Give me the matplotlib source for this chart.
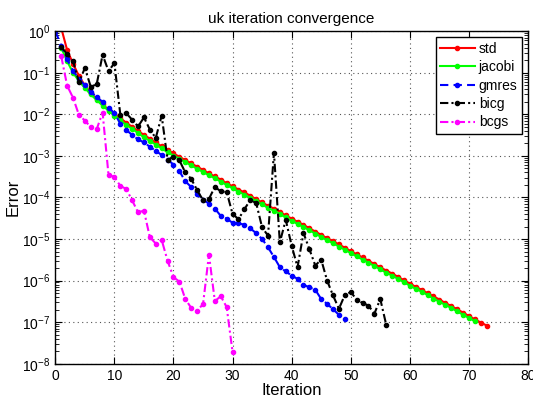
import matplotlib
matplotlib.use("Agg")
import matplotlib.pyplot as plt
import numpy as np

plt.rcParams['font.family'] = ['Liberation Sans', 'DejaVu Sans']
plt.rcParams['mathtext.fontset'] = 'custom'
plt.rcParams['mathtext.rm'] = 'Liberation Sans'

# ---- data ----
std_iter = list(range(1, 74))
std_err = [1.2e0, 3.5e-1, 1.66e-1, 8.3e-2, 5.0e-2, 3.3e-2, 2.3e-2, 1.74e-2, 1.29e-2, 1.0e-2,
           8.1e-3, 6.3e-3, 5.0e-3, 4.0e-3, 3.2e-3, 2.6e-3, 2.1e-3, 1.7e-3, 1.38e-3, 1.15e-3,
           9.5e-4, 7.9e-4, 6.6e-4, 5.5e-4, 4.6e-4, 3.8e-4, 3.2e-4, 2.7e-4, 2.2e-4, 1.86e-4,
           1.55e-4, 1.32e-4, 1.1e-4, 9.1e-5, 7.6e-5, 6.3e-5, 5.4e-5, 4.5e-5, 3.7e-5, 3.1e-5,
           2.6e-5, 2.2e-5, 1.82e-5, 1.51e-5, 1.26e-5, 1.05e-5, 8.9e-6, 7.4e-6, 6.2e-6, 5.1e-6,
           4.3e-6, 3.6e-6, 3.0e-6, 2.5e-6, 2.1e-6, 1.74e-6, 1.48e-6, 1.23e-6, 1.02e-6, 8.5e-7,
           7.1e-7, 6.0e-7, 5.0e-7, 4.2e-7, 3.5e-7, 2.9e-7, 2.45e-7, 2.05e-7, 1.7e-7, 1.41e-7,
           1.17e-7, 9.8e-8, 8.3e-8]

jacobi_iter = list(range(1, 72))
jacobi_err = [4.0e-1, 1.9e-1, 1.0e-1, 6.3e-2, 4.3e-2, 3.0e-2, 2.2e-2, 1.62e-2, 1.23e-2, 9.3e-3,
              7.2e-3, 5.6e-3, 4.5e-3, 3.55e-3, 2.8e-3, 2.3e-3, 1.86e-3, 1.51e-3, 1.23e-3, 1.02e-3,
              8.5e-4, 7.1e-4, 5.9e-4, 4.9e-4, 4.1e-4, 3.4e-4, 2.9e-4, 2.4e-4, 2.0e-4, 1.66e-4,
              1.38e-4, 1.17e-4, 9.8e-5, 8.1e-5, 6.8e-5, 5.6e-5, 4.8e-5, 4.0e-5, 3.3e-5, 2.75e-5,
              2.3e-5, 1.95e-5, 1.62e-5, 1.35e-5, 1.12e-5, 9.3e-6, 7.9e-6, 6.6e-6, 5.5e-6, 4.6e-6,
              3.8e-6, 3.2e-6, 2.7e-6, 2.24e-6, 1.86e-6, 1.55e-6, 1.32e-6, 1.1e-6, 9.1e-7, 7.6e-7,
              6.3e-7, 5.4e-7, 4.5e-7, 3.7e-7, 3.1e-7, 2.6e-7, 2.2e-7, 1.82e-7, 1.51e-7, 1.26e-7,
              1.05e-7]

gmres_iter = list(range(0, 50))
gmres_err = [1.0e0, 4.5e-1, 2.1e-1, 1.12e-1, 7.1e-2, 5.0e-2, 3.5e-2, 2.6e-2, 2.0e-2, 1.45e-2,
             1.07e-2, 6.0e-3, 4.2e-3, 3.2e-3, 2.5e-3, 2.1e-3, 1.66e-3, 1.32e-3, 1.05e-3, 8.1e-4,
             6.2e-4, 4.3e-4, 2.45e-4, 1.78e-4, 1.23e-4, 8.9e-5, 7.1e-5, 5.4e-5, 3.6e-5, 3.1e-5,
             2.45e-5, 2.4e-5, 2.2e-5, 1.8e-5, 1.38e-5, 1.0e-5, 6.3e-6, 3.7e-6, 2.1e-6, 1.66e-6,
             1.32e-6, 1.1e-6, 7.9e-7, 6.9e-7, 6.0e-7, 3.6e-7, 2.75e-7, 2.05e-7, 1.5e-7, 1.17e-7]

bicg_iter = list(range(1, 57))
bicg_err = [4.2e-1, 2.8e-1, 1.9e-1, 5.9e-2, 1.3e-1, 4.6e-2, 5.3e-2, 2.7e-1, 1.1e-1, 1.7e-1,
            9.8e-3, 1.07e-2, 7.4e-3, 5.1e-3, 8.4e-3, 4.3e-3, 2.7e-3, 9.3e-3, 8.0e-4, 9.6e-4,
            7.8e-4, 4.0e-4, 2.8e-4, 1.5e-4, 8.6e-5, 9.2e-5, 1.8e-4, 1.4e-4, 1.35e-4, 4.0e-5,
            3.0e-5, 5.2e-5, 8.7e-5, 7.3e-5, 1.9e-5, 1.2e-5, 1.2e-3, 8.3e-6, 2.9e-5, 6.9e-6,
            2.1e-6, 1.4e-5, 5.7e-6, 2.3e-6, 3.2e-6, 1.0e-6, 4.4e-7, 2.1e-7, 4.5e-7, 5.3e-7,
            3.5e-7, 2.9e-7, 2.5e-7, 1.6e-7, 3.6e-7, 8.7e-8]

bcgs_iter = list(range(1, 31))
bcgs_err = [2.5e-1, 4.9e-2, 2.5e-2, 9.6e-3, 7.1e-3, 4.9e-3, 4.4e-3, 1.1e-2, 3.5e-4, 3.1e-4,
            1.9e-4, 1.6e-4, 8.5e-5, 4.4e-5, 4.8e-5, 1.1e-5, 7.8e-6, 9.5e-6, 3.0e-6, 1.2e-6,
            9.5e-7, 3.6e-7, 2.2e-7, 1.9e-7, 2.7e-7, 4.2e-6, 3.2e-7, 4.2e-7, 2.3e-7, 1.9e-8]

series = [
    ("std", std_iter, std_err, "-", "#ff0000"),
    ("jacobi", jacobi_iter, jacobi_err, "-", "#00ff00"),
    ("gmres", gmres_iter, gmres_err, (0, (4, 2.5)), "#0000ff"),
    ("bicg", bicg_iter, bicg_err, (0, (4, 1.5, 1, 1.5)), "#000000"),
    ("bcgs", bcgs_iter, bcgs_err, (0, (4, 1.5, 1, 1.5)), "#ff00ff"),
]

fig = plt.figure(figsize=(5.33, 4.01), dpi=100)
ax = fig.add_axes([0.1038, 0.093, 0.8868, 0.8292])

for name, xs, ys, ls, col in series:
    ax.semilogy(xs, ys, linestyle=ls, color=col, marker='.', markersize=6,
                linewidth=1.5, label=name)

ax.set_xlim(0, 80)
ax.set_ylim(1e-8, 1e0)
ax.set_xticks(range(0, 81, 10))
ax.set_yticks([10.0 ** e for e in range(-8, 1)])
ax.set_yticklabels([r'$10^{%d}$' % e for e in range(-8, 1)])
ax.grid(True, which='major', linestyle=(0, (1, 3)), color='#555555', linewidth=0.8)
ax.tick_params(which='both', direction='in', top=True, right=True, labelsize=10, colors='black')
ax.tick_params(which='major', length=5)
ax.tick_params(which='minor', length=3)
ax.minorticks_on()
ax.xaxis.set_minor_locator(matplotlib.ticker.NullLocator())
for s in ax.spines.values():
    s.set_linewidth(1.0)

ax.set_title("uk iteration convergence", fontsize=11)
ax.set_xlabel("Iteration", fontsize=12, labelpad=0)
ax.set_ylabel("Error", fontsize=12, labelpad=1)

leg = ax.legend(loc='upper right', fontsize=10, fancybox=False, framealpha=1,
                edgecolor='black', handlelength=2.5, borderaxespad=0.45,
                labelspacing=0.32, handletextpad=0.3, borderpad=0.3)
leg.get_frame().set_linewidth(1.0)

fig.savefig("out.png", dpi=100)
